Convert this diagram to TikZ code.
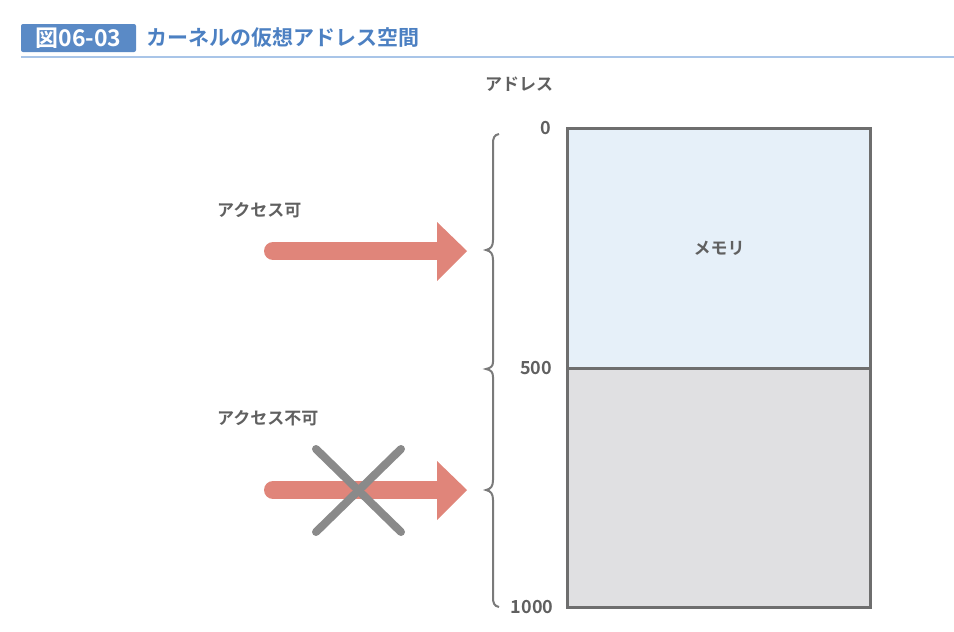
\documentclass[tikz,border=0pt]{standalone}
\usepackage{fontspec}
\setmainfont{Noto Sans CJK JP}
\newfontfamily\jpb{Noto Sans CJK JP}[BoldFont={* Bold}]
\definecolor{titleblue}{HTML}{5A8AC6}
\definecolor{titletext}{HTML}{4C80C2}
\definecolor{rulelight}{HTML}{A9C5E8}
\definecolor{txtgray}{HTML}{606060}
\definecolor{boxgray}{HTML}{6E6E6E}
\definecolor{memfill}{HTML}{E6F0F9}
\definecolor{lowfill}{HTML}{E0E0E2}
\definecolor{arrowred}{HTML}{E0857A}
\definecolor{crossgray}{HTML}{8A8A8A}
\definecolor{bracegray}{HTML}{7A7A7A}
\tikzset{
  lbl/.style={font=\jpb\bfseries\fontsize{17}{20}\selectfont, text=txtgray, inner sep=0pt},
  numlbl/.style={font=\jpb\bfseries\fontsize{18}{20}\selectfont, text=txtgray, inner sep=0pt},
  shaft/.style={line width=18pt, line cap=round, draw=arrowred},
  headfill/.style={fill=arrowred, draw=none},
  crossline/.style={line width=8pt, line cap=round, draw=crossgray},
  bracestyle/.style={line width=2pt, draw=bracegray},
}
\begin{document}
\begin{tikzpicture}[x=1pt,y=-1pt]
\useasboundingbox (0,0) rectangle (954,632);
% title
\node[fill=titleblue, rounded corners=2pt, minimum width=115pt, minimum height=28pt, inner sep=0pt,
  text=white, font=\jpb\bfseries\fontsize{23}{26}\selectfont] (tag) at (78.5,38) {図06-03};
\node[anchor=west, text=titletext, inner sep=0pt, font=\jpb\bfseries\fontsize{21}{24}\selectfont] (title) at (146,38) {カーネルの仮想アドレス空間};
\coordinate (r1) at (21,57);
\coordinate (r2) at (954,57);
\draw[rulelight, line width=2pt] (r1) -- (r2);
% address label
\node[lbl] (addr) at (519,84) {アドレス};
% memory boxes
\node[fill=memfill, minimum width=303pt, minimum height=240pt, inner sep=0pt, anchor=north west] (mem) at (567,128) {};
\node[fill=lowfill, minimum width=303pt, minimum height=239pt, inner sep=0pt, anchor=north west] (low) at (567,368) {};
\draw[boxgray, line width=3pt] (mem.south west) -- (mem.south east);
\draw[boxgray, line width=3pt] (mem.north west) rectangle (low.south east);
\node[lbl] (memtxt) at (719,248) {メモリ};
% numbers
\node[numlbl] (n0) at (546,128) {0};
\node[numlbl] (n500) at (536,368) {500};
\node[numlbl] (n1000) at (532,607) {1000};
% braces
\draw[bracestyle] (499,134) .. controls (494,135) and (493,138) .. (493,144) -- (493,240)
  .. controls (493,246) and (491,249) .. (486,250) .. controls (491,251) and (493,254) .. (493,260)
  -- (493,362) .. controls (493,366) and (491,368) .. (486,369)
  .. controls (491,370) and (493,372) .. (493,377) -- (493,480)
  .. controls (493,486) and (491,489) .. (486,490) .. controls (491,491) and (493,494) .. (493,500)
  -- (493,597) .. controls (493,603) and (494,606) .. (499,607);
% labels
\node[lbl, anchor=west] (ok) at (217,210) {アクセス可};
\node[lbl, anchor=west] (ng) at (217,418) {アクセス不可};
% arrow 1
\coordinate (a1s) at (273,251);
\coordinate (a1e) at (440,251);
\draw[shaft] (a1s) -- (a1e);
\fill[headfill] (437,222) -- (467,251) -- (437,281) -- cycle;
% arrow 2
\coordinate (a2s) at (273,490);
\coordinate (a2e) at (440,490);
\draw[shaft] (a2s) -- (a2e);
\fill[headfill] (437,461) -- (467,490) -- (437,520) -- cycle;
% cross
\coordinate (c1) at (316,449);
\coordinate (c2) at (401,532);
\coordinate (c3) at (401,449);
\coordinate (c4) at (316,532);
\draw[crossline] (c1) -- (c2);
\draw[crossline] (c3) -- (c4);
\end{tikzpicture}
\end{document}
